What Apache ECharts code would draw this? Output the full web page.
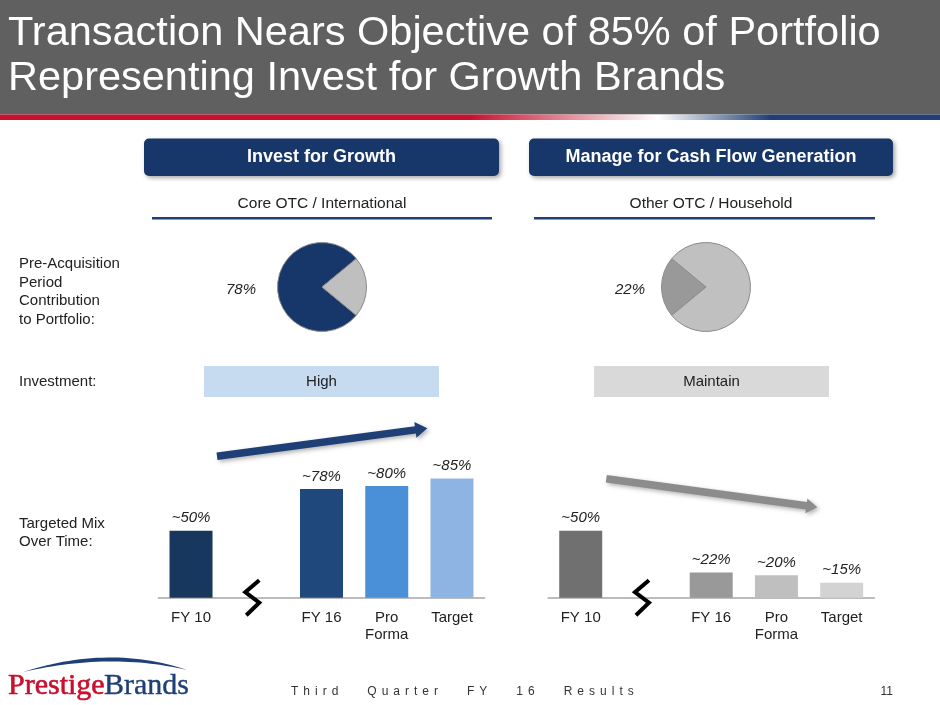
<!DOCTYPE html>
<html><head><meta charset="utf-8">
<script src="https://cdn.jsdelivr.net/npm/echarts@6/dist/echarts.min.js"></script>
<style>html,body{margin:0;padding:0;background:#fff}#c{width:940px;height:705px}</style>
</head><body><div id="c"></div>
<script>
// ---- data ----
const categories = ['FY 10', '', 'FY 16', 'Pro\nForma', 'Target'];
const growthMix = [50, '-', 78, 80, 85];
const cashMix = [50, '-', 22, 20, 15];
const growthPie = [78, 22];
const cashPie = [22, 78];
const titleLines = ['Transaction Nears Objective of 85% of Portfolio', 'Representing Invest for Growth Brands'];
const headers = ['Invest for Growth', 'Manage for Cash Flow Generation'];
const segments = ['Core OTC / International', 'Other OTC / Household'];
const investment = ['High', 'Maintain'];
const rowLabels = ['Pre-Acquisition\nPeriod\nContribution\nto Portfolio:', 'Investment:', 'Targeted Mix\nOver Time:'];
const footer = 'Third Quarter FY 16 Results';
const pageNo = '11';

// ---- style ----
const FONT = '"Liberation Sans", Arial, Helvetica, sans-serif';
const SERIF = '"Liberation Serif", "Times New Roman", serif';
const NAVY = '#17376a';
const growthColors = ['#17375e', '#fff', '#1f497d', '#4a90d9', '#8db4e3'];
const cashColors = ['#707070', '#fff', '#999999', '#bfbfbf', '#d3d3d3'];

const chart = echarts.init(document.getElementById('c'), null, {renderer: 'canvas'});

function barData(vals, cols) {
  return vals.map((v, i) => v === '-' ? '-' : {value: v, itemStyle: {color: cols[i]}});
}
function xAxis(gi) {
  return {
    type: 'category', gridIndex: gi, data: categories, boundaryGap: true,
    axisTick: {show: false},
    axisLine: {show: true, lineStyle: {color: '#a6a6a6', width: 1.5}},
    axisLabel: {interval: 0, fontSize: 15, color: '#222', fontFamily: FONT, margin: 11, lineHeight: 17.5},
    splitLine: {show: false}
  };
}
function yAxis(gi) {
  return {type: 'value', gridIndex: gi, min: 5, max: 100, show: false, splitLine: {show: false}};
}
const barLabel = {
  show: true, position: 'top', distance: 5,
  formatter: p => '~' + p.value + '%',
  fontStyle: 'italic', fontSize: 15, color: '#222', fontFamily: FONT
};

function arrowPoints(x1, y1, x2, y2, t, hl, hw) {
  const dx = x2 - x1, dy = y2 - y1, L = Math.hypot(dx, dy), ux = dx / L, uy = dy / L, px = -uy, py = ux;
  const bx = x2 - ux * hl, by = y2 - uy * hl;
  return [[x1 + px * t / 2, y1 + py * t / 2], [bx + px * t / 2, by + py * t / 2], [bx + px * hw, by + py * hw], [x2, y2],
          [bx - px * hw, by - py * hw], [bx - px * t / 2, by - py * t / 2], [x1 - px * t / 2, y1 - py * t / 2]];
}
function quad(p0, c, p1, n) {
  const pts = [];
  for (let i = 0; i <= n; i++) {
    const t = i / n, a = (1 - t) * (1 - t), b = 2 * (1 - t) * t, d = t * t;
    pts.push([a * p0[0] + b * c[0] + d * p1[0], a * p0[1] + b * c[1] + d * p1[1]]);
  }
  return pts;
}
const swoosh = quad([23, 672], [110, 644], [187, 670], 30).concat(quad([187, 670], [110, 652], [23, 672], 30));

function txt(x, y, text, opts) {
  return {type: 'text', silent: true, z: 10, style: Object.assign({
    x: x, y: y, text: text, fill: '#222', font: '15px ' + FONT,
    align: 'left', verticalAlign: 'middle', textAlign: 'left', textVerticalAlign: 'middle'
  }, opts || {})};
}
function centerTxt(x, y, text, opts) {
  return txt(x, y, text, Object.assign({align: 'center', textAlign: 'center'}, opts || {}));
}

// letter-spaced footer text
const mctx = document.createElement('canvas').getContext('2d');
mctx.font = '12px ' + FONT;
const footerEls = [];
(function () {
  let fx = 291;
  const ls = 5, wordGap = 29;
  footer.split(' ').forEach((w, wi) => {
    if (wi) fx += wordGap - ls;
    w.split('').forEach(ch => {
      footerEls.push(txt(fx, 692, ch, {font: '12px ' + FONT, fill: '#333'}));
      fx += mctx.measureText(ch).width + ls;
    });
  });
})();

const graphics = [
  {type: 'rect', shape: {x: 0, y: 0, width: 940, height: 114.5}, style: {fill: '#606060'}, silent: true},
  {type: 'rect', shape: {x: 0, y: 114.5, width: 940, height: 5.5}, silent: true, style: {
    fill: new echarts.graphic.LinearGradient(0, 0, 1, 0, [
      {offset: 0, color: '#c8102e'}, {offset: 0.5, color: '#c8102e'},
      {offset: 0.70, color: '#ffffff'}, {offset: 0.82, color: '#1f3f77'}, {offset: 1, color: '#1f3f77'}])}},
  txt(8, 34, titleLines[0], {fill: '#fff', font: '41.5px ' + FONT}),
  txt(8, 79, titleLines[1], {fill: '#fff', font: '41.5px ' + FONT}),
  // header boxes
  {type: 'rect', shape: {x: 144, y: 138.5, width: 355, height: 37.5, r: 5}, silent: true,
   style: {fill: NAVY, shadowBlur: 4, shadowOffsetX: 2, shadowOffsetY: 2, shadowColor: 'rgba(0,0,0,0.35)'}},
  {type: 'rect', shape: {x: 529, y: 138.5, width: 364, height: 37.5, r: 5}, silent: true,
   style: {fill: NAVY, shadowBlur: 4, shadowOffsetX: 2, shadowOffsetY: 2, shadowColor: 'rgba(0,0,0,0.35)'}},
  centerTxt(321.5, 157.5, headers[0], {fill: '#fff', font: 'bold 18px ' + FONT}),
  centerTxt(711, 157.5, headers[1], {fill: '#fff', font: 'bold 18px ' + FONT}),
  centerTxt(322, 204, segments[0], {font: '15.5px ' + FONT}),
  centerTxt(711, 204, segments[1], {font: '15.5px ' + FONT}),
  {type: 'rect', shape: {x: 152, y: 217, width: 340, height: 2.5}, style: {fill: '#1f3f77'}, silent: true},
  {type: 'rect', shape: {x: 534, y: 217, width: 341, height: 2.5}, style: {fill: '#1f3f77'}, silent: true},
  // row labels
  txt(19, 292, rowLabels[0], {lineHeight: 18.7}),
  txt(19, 382, rowLabels[1]),
  txt(19, 533, rowLabels[2], {lineHeight: 18.5}),
  // pie labels
  centerTxt(241, 290, growthPie[0] + '%', {font: 'italic 15px ' + FONT}),
  centerTxt(630, 290, cashPie[0] + '%', {font: 'italic 15px ' + FONT}),
  // investment boxes
  {type: 'rect', shape: {x: 204, y: 366, width: 235, height: 31}, style: {fill: '#c6dbf0'}, silent: true},
  {type: 'rect', shape: {x: 594, y: 366, width: 235, height: 31}, style: {fill: '#d9d9d9'}, silent: true},
  centerTxt(321.5, 382, investment[0]),
  centerTxt(711.5, 382, investment[1]),
  // arrows
  {type: 'polygon', silent: true, z: 5, shape: {points: arrowPoints(217, 456.3, 427.3, 428.3, 7.5, 12, 8)},
   style: {fill: '#1f3f77', shadowBlur: 4, shadowOffsetX: 2, shadowOffsetY: 2, shadowColor: 'rgba(0,0,0,0.3)'}},
  {type: 'polygon', silent: true, z: 5, shape: {points: arrowPoints(606.3, 478.8, 817.3, 507.3, 7.5, 11, 7.5)},
   style: {fill: '#8c8c8c', shadowBlur: 4, shadowOffsetX: 2, shadowOffsetY: 2, shadowColor: 'rgba(0,0,0,0.3)'}},
  // footer
  {type: 'polygon', silent: true, shape: {points: swoosh}, style: {fill: '#1f3f77'}},
  txt(8, 686, 'Prestige', {fill: '#c8102e', font: '30px ' + SERIF, stroke: '#c8102e', lineWidth: 0.6}),
  txt(104, 686, 'Brands', {fill: '#1f3f77', font: '30px ' + SERIF, stroke: '#1f3f77', lineWidth: 0.4}),
  txt(893, 692, pageNo, {font: '12px ' + FONT, fill: '#333', align: 'right', textAlign: 'right'})
].concat(footerEls);

const option = {
  animation: false,
  backgroundColor: '#fff',
  grid: [
    {left: 158.4, width: 326.2, top: 456.2, height: 141.5},
    {left: 548.1, width: 326.2, top: 456.2, height: 141.5}
  ],
  xAxis: [xAxis(0), xAxis(1)],
  yAxis: [yAxis(0), yAxis(1)],
  series: [
    {type: 'bar', xAxisIndex: 0, yAxisIndex: 0, barWidth: 43, data: barData(growthMix, growthColors), label: barLabel, silent: true},
    {type: 'bar', xAxisIndex: 1, yAxisIndex: 1, barWidth: 43, data: barData(cashMix, cashColors), label: barLabel, silent: true},
    {type: 'pie', center: [322, 287], radius: 44.5, clockwise: true,
     startAngle: 360 * growthPie[0] / 100 + 180 * growthPie[1] / 100,
     data: growthPie.map((v, i) => ({value: v, name: i ? 'Other' : 'Core', itemStyle: {color: i ? '#bfbfbf' : NAVY}})),
     label: {show: false}, labelLine: {show: false}, silent: true,
     itemStyle: {borderColor: '#8a8a8a', borderWidth: 1}},
    {type: 'pie', center: [706, 287], radius: 44.5, clockwise: true,
     startAngle: 180 + 180 * cashPie[0] / 100,
     data: cashPie.map((v, i) => ({value: v, name: i ? 'Rest' : 'Other OTC', itemStyle: {color: i ? '#c0c0c0' : '#999999'}})),
     label: {show: false}, labelLine: {show: false}, silent: true,
     itemStyle: {borderColor: '#8a8a8a', borderWidth: 1}}
  ],
  graphic: graphics
};
chart.setOption(option);

// axis break symbols at the empty category slot
function breakShape(gi) {
  const p = chart.convertToPixel({gridIndex: gi}, [1, 5]);
  const x = p[0] - 2, y = p[1];
  return {type: 'polyline', silent: true, z: 20,
    shape: {points: [[x + 5, y - 17.5], [x - 9, y - 5.5], [x + 5, y + 5], [x - 8, y + 17.5]]},
    style: {stroke: '#000', lineWidth: 4, fill: null}};
}
chart.setOption({graphic: graphics.concat([breakShape(0), breakShape(1)])});
</script>
</body></html>
